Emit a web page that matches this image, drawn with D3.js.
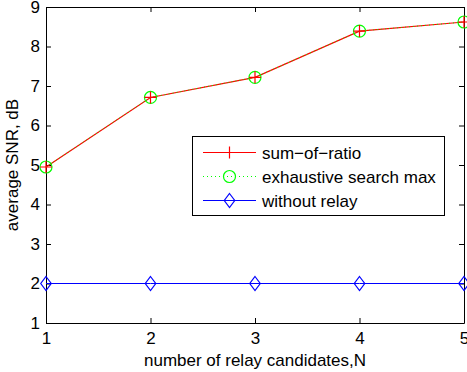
<!DOCTYPE html>
<html>
<head>
<meta charset="utf-8">
<script src="https://cdn.jsdelivr.net/npm/d3@7"></script>
<style>
  html, body { margin: 0; padding: 0; background: #fff; }
  svg { display: block; font-family: "Liberation Sans", Arial, Helvetica, sans-serif; }
</style>
</head>
<body>
<svg id="chart" width="467" height="372"></svg>
<script>
// Relay candidates and the average SNR (dB) for each scheme
const relayCounts = [1, 2, 3, 4, 5];
const sumOfRatio = [4.95, 6.71, 7.22, 8.39, 8.62];
const exhaustiveMax = [4.95, 6.71, 7.22, 8.39, 8.62];
const withoutRelay = [2, 2, 2, 2, 2];
const xTicks = [1, 2, 3, 4, 5];
const yTicks = [1, 2, 3, 4, 5, 6, 7, 8, 9];
const seriesNames = ["sum\u2212of\u2212ratio", "exhaustive search max", "without relay"];

const svg = d3.select("#chart");
const plotLeft = 46, plotRight = 464, plotTop = 7, plotBottom = 323;

const x = d3.scaleLinear().domain([1, 5]).range([plotLeft, plotRight]);
const y = d3.scaleLinear().domain([1, 9]).range([plotBottom, plotTop]);

// axis box with inward ticks on all four sides
const tickLen = 5;
const axes = svg.append("g");
axes.append("g").attr("transform", `translate(0,${plotBottom})`)
  .call(d3.axisBottom(x).tickValues(xTicks).tickSizeInner(-tickLen).tickSizeOuter(0).tickPadding(9).tickFormat(d3.format("d")));
axes.append("g").attr("transform", `translate(0,${plotTop})`)
  .call(d3.axisTop(x).tickValues(xTicks).tickSizeInner(-tickLen).tickSizeOuter(0).tickFormat(""));
axes.append("g").attr("transform", `translate(${plotLeft},0)`)
  .call(d3.axisLeft(y).tickValues(yTicks).tickSizeInner(-tickLen).tickSizeOuter(0).tickPadding(6).tickFormat(d3.format("d")));
axes.append("g").attr("transform", `translate(${plotRight},0)`)
  .call(d3.axisRight(y).tickValues(yTicks).tickSizeInner(-tickLen).tickSizeOuter(0).tickFormat(""));
axes.selectAll(".domain").attr("stroke", "#000").attr("stroke-width", 1);
axes.selectAll(".tick line").attr("stroke", "#000");
axes.selectAll(".tick text").attr("font-size", 17).attr("fill", "#000")
  .attr("font-family", "'Liberation Sans', Arial, sans-serif");

// axis titles
svg.append("text").attr("x", (plotLeft + plotRight) / 2).attr("y", 366)
  .attr("text-anchor", "middle").attr("font-size", 17).text("number of relay candidates,N");
svg.append("text").attr("transform", `translate(18,${(plotTop + plotBottom) / 2}) rotate(-90)`)
  .attr("text-anchor", "middle").attr("font-size", 17).text("average SNR, dB");

const line = d3.line().x((d, i) => x(relayCounts[i])).y(d => y(d));

// marker shapes
function plus(g, cx, cy, s, color) {
  g.append("path").attr("d", `M${cx - s},${cy}H${cx + s}M${cx},${cy - s}V${cy + s}`)
    .attr("stroke", color).attr("stroke-width", 1.2).attr("fill", "none");
}
function circle(g, cx, cy, r, color) {
  g.append("circle").attr("cx", cx).attr("cy", cy).attr("r", r)
    .attr("stroke", color).attr("stroke-width", 1.2).attr("fill", "none");
}
function diamond(g, cx, cy, s, color) {
  g.append("path").attr("d", `M${cx},${cy - s}L${cx + s * 0.75},${cy}L${cx},${cy + s}L${cx - s * 0.75},${cy}Z`)
    .attr("stroke", color).attr("stroke-width", 1.2).attr("fill", "none");
}

const plot = svg.append("g");
plot.append("path").datum(sumOfRatio).attr("d", line)
  .attr("stroke", "#ff0000").attr("stroke-width", 1.2).attr("fill", "none");
plot.append("path").datum(exhaustiveMax).attr("d", line)
  .attr("stroke", "#00ff00").attr("stroke-width", 1).attr("stroke-dasharray", "1,3").attr("fill", "none");
plot.append("path").datum(withoutRelay).attr("d", line)
  .attr("stroke", "#0000ff").attr("stroke-width", 1).attr("fill", "none");

exhaustiveMax.forEach((v, i) => circle(plot, x(relayCounts[i]), y(v), 6, "#00ff00"));
sumOfRatio.forEach((v, i) => plus(plot, x(relayCounts[i]), y(v), 6, "#ff0000"));
withoutRelay.forEach((v, i) => diamond(plot, x(relayCounts[i]), y(v), 7, "#0000ff"));

// legend
const lg = svg.append("g");
lg.append("rect").attr("x", 192.5).attr("y", 136.5).attr("width", 252).attr("height", 79)
  .attr("fill", "#fff").attr("stroke", "#000").attr("stroke-width", 1);
const rows = [152.5, 176.5, 200.5];
const colors = ["#ff0000", "#00ff00", "#0000ff"];
rows.forEach((ry, i) => {
  const l = lg.append("line").attr("x1", 203).attr("x2", 256).attr("y1", ry).attr("y2", ry)
    .attr("stroke", colors[i]).attr("stroke-width", 1);
  if (i === 1) l.attr("stroke-dasharray", "1,3");
  if (i === 0) plus(lg, 229.5, ry, 6, colors[i]);
  if (i === 1) circle(lg, 229.5, ry, 6, colors[i]);
  if (i === 2) diamond(lg, 229.5, ry, 7, colors[i]);
  lg.append("text").attr("x", 262).attr("y", ry + 6).attr("font-size", 17).text(seriesNames[i]);
});
</script>
</body>
</html>
